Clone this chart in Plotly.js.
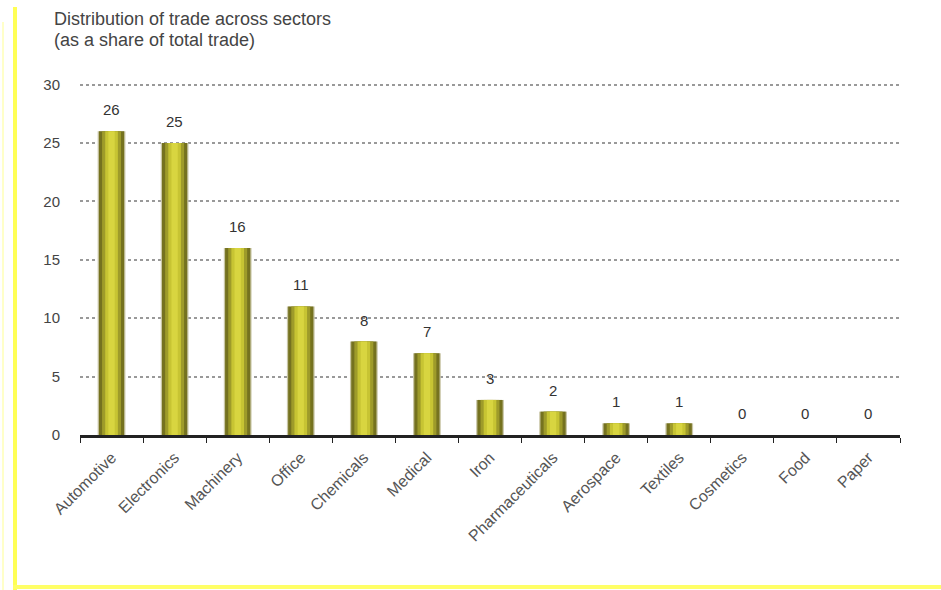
<!DOCTYPE html>
<html>
<head>
<meta charset="utf-8">
<script src="https://cdn.plot.ly/plotly-3.0.1.min.js"></script>
<style>
html,body{margin:0;padding:0;background:#fff;}
#wrap{position:relative;width:941px;height:590px;}
#chart{position:absolute;left:0;top:0;width:941px;height:590px;}
.bl{position:absolute;left:13px;top:7px;width:4px;height:583px;background:#ffff55;}
.bl2{position:absolute;left:2px;top:22px;width:2px;height:568px;background:#ffffc8;}
.bb{position:absolute;left:13px;top:585px;width:928px;height:4px;background:#ffff66;}
</style>
</head>
<body>
<div id="wrap">
<div id="chart"></div>
<div class="bl2"></div>
<div class="bl"></div>
<div class="bb"></div>
</div>
<script>
var categories = ["Automotive","Electronics","Machinery","Office","Chemicals","Medical","Iron","Pharmaceuticals","Aerospace","Textiles","Cosmetics","Food","Paper"];
var shares = [26,25,16,11,8,7,3,2,1,1,0,0,0];
var yTicks = [0,5,10,15,20,25,30];
var titleLines = ["Distribution of trade across sectors","(as a share of total trade)"];

function barLayer(w, color){
  return {
    type:'bar', x:categories, y:shares, width:w,
    marker:{color:color, line:{width:0}},
    hoverinfo:'skip', showlegend:false
  };
}
var traces = [
  barLayer(0.44, '#c9c6a6'),
  barLayer(0.40, '#75721f'),
  barLayer(0.30, '#9e9b2a'),
  barLayer(0.20, '#c7c433'),
  barLayer(0.10, '#d8d540')
];

var FONT = 'Liberation Sans, Arial, sans-serif';
var annotations = categories.map(function(c,i){
  return {x:c, y:shares[i], text:String(shares[i]), showarrow:false,
    yanchor:'bottom', yshift:11, font:{family:FONT, size:15, color:'#333'}};
});
titleLines.forEach(function(t,i){
  annotations.push({xref:'paper', yref:'paper', x:-0.034, y:1.0, xanchor:'left', yanchor:'middle',
    yshift:62 - i*21, align:'left', showarrow:false, text:t,
    font:{family:FONT, size:18, color:'#444'}});
});

var layout = {
  width:941, height:590,
  margin:{l:80, r:41, t:81, b:155},
  paper_bgcolor:'#fff', plot_bgcolor:'#fff',
  barmode:'overlay',
  font:{family:FONT, size:15, color:'#444'},
  xaxis:{type:'category', tickangle:-45, tickson:'boundaries', ticks:'outside', ticklen:5,
    tickcolor:'#222', showline:true, linecolor:'#222', linewidth:3, showgrid:false,
    ticklabelstandoff:4, tickfont:{size:16, color:'#555'}},
  yaxis:{range:[0,30.3], tickvals:yTicks, showline:false, zeroline:false, showgrid:true,
    gridcolor:'#999', griddash:'dot', gridwidth:2, ticks:'outside', ticklen:16, tickcolor:'rgba(0,0,0,0)',
    tickfont:{size:15, color:'#444'}},
  annotations:annotations,
  showlegend:false
};
Plotly.newPlot('chart', traces, layout, {staticPlot:true});
</script>
</body>
</html>
